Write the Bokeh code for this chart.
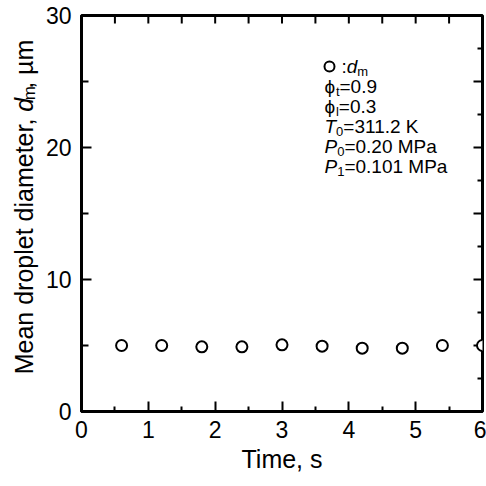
import math
from bokeh.plotting import figure
from bokeh.layouts import row
from bokeh.models import Label, LinearAxis, FixedTicker, Range1d
from bokeh.core.properties import value
from bokeh.embed import file_html
from bokeh.resources import INLINE

# ---- data ----
time_s = [0.6, 1.2, 1.8, 2.4, 3.0, 3.6, 4.2, 4.8, 5.4, 6.0]
d_m = [5.0, 5.0, 4.9, 4.9, 5.05, 4.95, 4.8, 4.8, 5.0, 5.0]
x_ticks = [0, 1, 2, 3, 4, 5, 6]
x_minor = [0.5, 1.5, 2.5, 3.5, 4.5, 5.5]
y_ticks = [0, 10, 20, 30]
y_minor = [5, 15, 25]
top_ticks = [0.5, 1, 1.5, 2, 2.5, 3, 3.5, 4, 4.5, 5, 5.5]
right_major = [5, 10, 15, 20, 25]
right_minor = [2.5, 7.5, 12.5, 17.5, 22.5, 27.5]

FONT = "Liberation Sans"
LW = 40                      # width of the y-label strip
W, H = 486 - LW, 486
BL, BR, BT, BB = 81 - LW, 4, 15, 75
XS = (W - BL - BR) / 6.0     # px per x unit
YS = (H - BT - BB) / 30.0    # px per y unit

# approximate Arial / Liberation Sans advance widths (em)
WID = {'0': .556, '1': .556, '2': .556, '3': .556, '4': .556, '5': .556, '6': .556,
       '7': .556, '8': .556, '9': .556, '.': .278, '=': .584, ' ': .278, ',': .278,
       ':': .278, 'M': .833, 'P': .667, 'a': .556, 'K': .667, 'T': .611, 'd': .556,
       'm': .833, 't': .278, 'l': .222, 'ϕ': .6, 'µ': .576, 'e': .556, 'n': .556,
       'r': .333, 'o': .556, 'p': .556, 'i': .222, 's': .5}


def tw(s, size):
    return sum(WID.get(c, .556) for c in s) * size


# ---------------- main plot ----------------
p = figure(width=W, height=H, output_backend="svg", toolbar_location=None,
           x_range=Range1d(0, 6), y_range=Range1d(0, 30),
           min_border_left=BL, min_border_right=BR, min_border_top=BT, min_border_bottom=BB,
           x_axis_location=None, y_axis_location=None)
p.grid.visible = False
p.outline_line_color = "black"
p.outline_line_width = 3
p.background_fill_color = "white"
p.border_fill_color = "white"


def style_axis(ax, ticks, minor, tin, tmin):
    ax.ticker = FixedTicker(ticks=ticks, minor_ticks=minor)
    ax.axis_line_color = "black"
    ax.axis_line_width = 3
    ax.major_tick_in = tin
    ax.major_tick_out = 0
    ax.minor_tick_in = tmin
    ax.minor_tick_out = 0
    ax.major_tick_line_width = 2
    ax.minor_tick_line_width = 2
    ax.major_tick_line_color = "black"
    ax.minor_tick_line_color = "black"
    ax.major_label_text_font = FONT
    ax.major_label_text_font_size = "23px"
    ax.major_label_text_color = "black"


xb = LinearAxis()
style_axis(xb, x_ticks, x_minor, 10, 5)
xb.major_label_standoff = 9
xb.axis_label = "Time, s"
xb.axis_label_text_font = FONT
xb.axis_label_text_font_size = "25px"
xb.axis_label_text_font_style = "normal"
xb.axis_label_text_color = "black"
xb.axis_label_standoff = 4
p.add_layout(xb, "below")

yl = LinearAxis()
style_axis(yl, y_ticks, y_minor, 10, 7)
yl.major_label_standoff = 10
p.add_layout(yl, "left")

# mirrored ticks on the top and right frame edges
tl = 8
p.segment(x0=top_ticks, y0=[30] * len(top_ticks), x1=top_ticks,
          y1=[30 - tl / YS] * len(top_ticks), line_color="black", line_width=2)
p.segment(x0=[6] * len(right_major), y0=right_major, x1=[6 - 9 / XS] * len(right_major),
          y1=right_major, line_color="black", line_width=2)
p.segment(x0=[6] * len(right_minor), y0=right_minor, x1=[6 - 5 / XS] * len(right_minor),
          y1=right_minor, line_color="black", line_width=2)

p.scatter(time_s, d_m, marker="circle", size=11, fill_color="white",
          line_color="black", line_width=2)


def run(pieces, x0, y0):
    """pieces: (text, size_px, style, shift_px) placed one after another (horizontal)."""
    off = 0.0
    for text, size, fstyle, shift in pieces:
        p.add_layout(Label(x=x0 + off / XS, y=y0 - shift / YS, text=text, text_font=FONT,
                           text_font_size=f"{size}px", text_font_style=fstyle,
                           text_color="black", text_baseline="middle", text_align="left"))
        off += tw(text, size)


def px2x(px):
    return (px - 81) / XS


def px2y(py):
    return (411 - py) / YS


# annotation block
lines_px = [66, 86, 106, 126, 146, 166]
FS, SS, SH = 19, 13, 5
p.scatter([px2x(329)], [px2y(lines_px[0])], marker="circle", size=10,
          fill_color="white", line_color="black", line_width=2)
run([(":", FS, "normal", 0), ("d", FS, "italic", 0), ("m", SS, "normal", SH)],
    px2x(341), px2y(lines_px[0]))
run([("ϕ", FS, "normal", 0), ("t", SS, "normal", SH), ("=0.9", FS, "normal", 0)],
    px2x(324), px2y(lines_px[1]))
run([("ϕ", FS, "normal", 0), ("l", SS, "normal", SH), ("=0.3", FS, "normal", 0)],
    px2x(324), px2y(lines_px[2]))
run([("T", FS, "italic", 0), ("0", SS, "normal", SH), ("=311.2 K", FS, "normal", 0)],
    px2x(324), px2y(lines_px[3]))
run([("P", FS, "italic", 0), ("0", SS, "normal", SH), ("=0.20 MPa", FS, "normal", 0)],
    px2x(324), px2y(lines_px[4]))
run([("P", FS, "italic", 0), ("1", SS, "normal", SH), ("=0.101 MPa", FS, "normal", 0)],
    px2x(324), px2y(lines_px[5]))

# ---------------- y-axis label strip ----------------
q = figure(width=LW, height=H, output_backend="svg", toolbar_location=None,
           x_range=Range1d(0, LW), y_range=Range1d(0, H),
           min_border=0, min_border_left=0, min_border_right=0,
           min_border_top=0, min_border_bottom=0,
           x_axis_location=None, y_axis_location=None)
q.grid.visible = False
q.outline_line_color = None
q.background_fill_color = "white"
q.border_fill_color = "white"

YL = 25
cx = 23
anchor = H - 118           # joint between "…diameter, " and "d"
common = dict(angle=math.pi / 2, text_font=value(FONT), text_color="black",
              text_baseline="middle")
# main part ends at the anchor
q.text(x=[cx], y=[anchor], text=["Mean droplet diameter, "], text_font_size=value(f"{YL}px"),
       text_font_style="normal", text_align="right", **common)
# symbol, subscript and unit start at the anchor
tail = [("d", YL, "italic", 0), ("m", 17, "normal", 6), (", µm", YL, "normal", 0)]
off = 0.0
for text, size, fstyle, shift in tail:
    q.text(x=[cx + shift], y=[anchor + off], text=[text], text_font_size=value(f"{size}px"),
           text_font_style=fstyle, text_align="left", **common)
    off += tw(text, size)

layout = row(q, p, spacing=0)
open("out.html", "w").write(file_html(layout, INLINE))
